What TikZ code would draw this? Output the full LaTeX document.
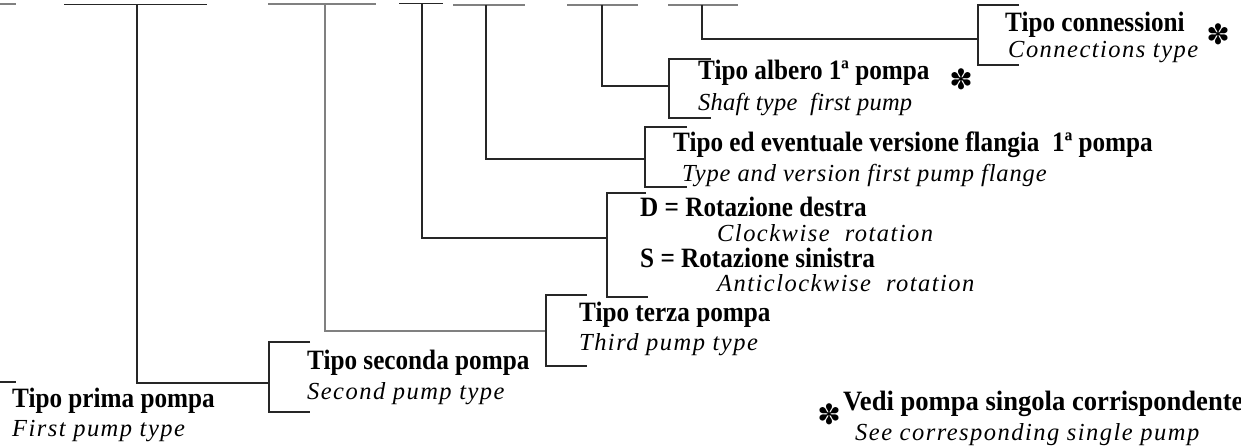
\documentclass[tikz,border=0pt]{standalone}
\usepackage{fontspec}
\setmainfont{Liberation Serif}
\newfontfamily\dingfont{DejaVu Sans}
\begin{document}
\begin{tikzpicture}[x=1pt,y=-1pt,
  ln/.style={line width=1.1pt,draw=black!85},
  lg/.style={line width=1.3pt,draw=black!50},
  bl/.style={anchor=base west,inner sep=0pt,font=\fontsize{28}{30}\selectfont\bfseries\addfontfeatures{FakeStretch=0.9}},
  it/.style={anchor=base west,inner sep=0pt,font=\fontsize{24.5}{26}\selectfont\itshape\addfontfeatures{LetterSpace=6}},
  ast/.style={anchor=center,inner sep=0pt,font=\dingfont\fontsize{28}{28}\selectfont}]
\useasboundingbox (0,0) rectangle (1241,446);
% top code segments
\draw[lg] (0,4) -- (16,4);
\draw[ln] (64,4.5) coordinate (tA1) -- (207,4.5) coordinate (tA2);
\draw[lg] (268,4) coordinate (tB1) -- (376,4) coordinate (tB2);
\draw[ln] (399,3.5) coordinate (tC1) -- (443,3.5) coordinate (tC2);
\draw[lg] (453,5) coordinate (tD1) -- (525,5) coordinate (tD2);
\draw[lg] (567,5) coordinate (tE1) -- (638,5) coordinate (tE2);
\draw[lg] (668,5) coordinate (tF1) -- (738,5) coordinate (tF2);
% bracket anchors
\coordinate (sA) at (137,4.5);  \coordinate (eA) at (269,383);
\coordinate (sB) at (325,4);    \coordinate (eB) at (546,331);
\coordinate (sC) at (422,3.5);  \coordinate (eC) at (607,238);
\coordinate (sD) at (486,5);    \coordinate (eD) at (645,159);
\coordinate (sE) at (602,5);    \coordinate (eE) at (669,86);
\coordinate (sF) at (702,5);    \coordinate (eF) at (978,39);
% elbow connectors
\draw[ln] (sA) |- (eA);
\draw[lg] (sB) |- (eB);
\draw[ln] (sC) |- (eC);
\draw[ln] (sD) |- (eD);
\draw[ln] (sE) |- (eE);
\draw[ln] (sF) |- (eF);
% brackets
\draw[ln] (1019,5) -- (978,5) -- (978,65) -- (1019,65);
\draw[ln] (711,59) -- (669,59) -- (669,118) -- (711,118);
\draw[ln] (687,127) -- (645,127) -- (645,187) -- (687,187);
\draw[ln] (646,193) -- (607,193) -- (607,297) -- (648,297);
\draw[ln] (587,295) -- (546,295) -- (546,366) -- (587,366);
\draw[ln] (310,342) -- (269,342) -- (269,412) -- (310,412);
\draw[ln] (0,382) -- (16,382);
% labels
\node[bl] (conB) at (1005,32) {Tipo connessioni};
\node[it] (conI) at (1008,58) {Connections type};
\node[ast] (astA) at (1218,34) {✽};
\node[bl] (albB) at (698,80) {Tipo albero 1ª pompa};
\node[it,font=\fontsize{24.5}{26}\selectfont\itshape\addfontfeatures{LetterSpace=1}] (albI) at (698,111) {Shaft type\ \ first pump};
\node[ast] (astB) at (961,79) {✽};
\node[bl] (flaB) at (673,152) {Tipo ed eventuale versione flangia\ \ 1ª pompa};
\node[it,font=\fontsize{24.5}{26}\selectfont\itshape\addfontfeatures{LetterSpace=3.5}] (flaI) at (682,182) {Type and version first pump flange};
\node[bl] (rotD) at (640,217) {D = Rotazione destra};
\node[it] (rotDi) at (717,241) {Clockwise\ \ rotation};
\node[bl] (rotS) at (640,267) {S = Rotazione sinistra};
\node[it] (rotSi) at (717,291) {Anticlockwise\ \ rotation};
\node[bl] (terB) at (579,321) {Tipo terza pompa};
\node[it] (terI) at (579,350) {Third pump type};
\node[bl] (secB) at (307,369) {Tipo seconda pompa};
\node[it] (secI) at (307,399) {Second pump type};
\node[bl] (priB) at (12,407) {Tipo prima pompa};
\node[it] (priI) at (12,436) {First pump type};
\node[ast] (astC) at (829,414) {✽};
\node[bl,font=\fontsize{28}{30}\selectfont\bfseries\addfontfeatures{FakeStretch=0.95}] (vedB) at (843,410) {Vedi pompa singola corrispondente};
\node[it] (vedI) at (855,440) {See corresponding single pump};
\end{tikzpicture}
\end{document}
